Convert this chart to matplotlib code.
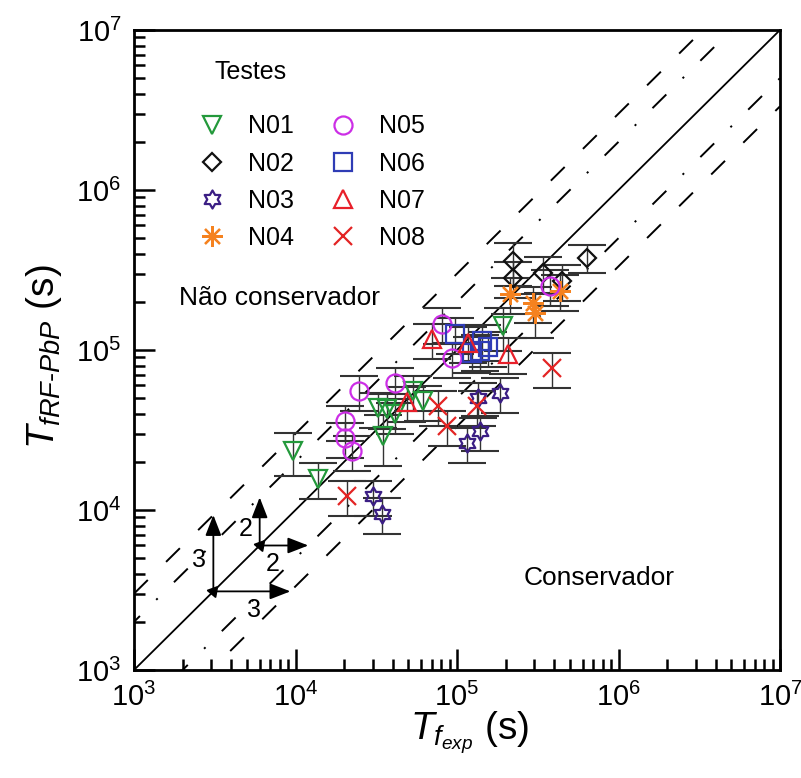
import numpy as np
import matplotlib
matplotlib.use("Agg")
import matplotlib.pyplot as plt
from matplotlib.path import Path

plt.rcParams["font.family"] = ["Liberation Sans", "DejaVu Sans"]
plt.rcParams["mathtext.fontset"] = "custom"
plt.rcParams["mathtext.rm"] = "Liberation Sans"
plt.rcParams["mathtext.it"] = "Liberation Sans:italic"
plt.rcParams["mathtext.bf"] = "Liberation Sans:bold"
plt.rcParams["lines.scale_dashes"] = False

# Fatigue life: experiment (x) vs RF-PbP prediction (y), seconds
n01_exp = [9.7e3, 1.38e4, 3.24e4, 3.69e4, 4.13e4, 3.48e4, 5.35e4, 6.15e4, 1.93e5]
n01_pred = [2.33e4, 1.57e4, 4.33e4, 4.27e4, 3.97e4, 2.89e4, 5.53e4, 4.79e4, 1.41e5]
n01_err = [0.30, 0.25, 0.25, 0.25, 0.25, 0.35, 0.25, 0.25, 0.30]

n02_exp = [2.22e5, 2.22e5, 3.41e5, 4.47e5, 6.38e5]
n02_pred = [3.61e5, 2.83e5, 3.04e5, 2.71e5, 3.78e5]
n02_err = [0.30, 0.25, 0.25, 0.25, 0.20]

n03_exp = [3.02e4, 3.44e4, 1.15e5, 1.39e5, 1.35e5, 1.85e5]
n03_pred = [1.22e4, 9.5e3, 2.61e4, 3.10e4, 5.0e4, 5.37e4]
n03_err = [0.25, 0.25, 0.25, 0.25, 0.25, 0.25]

n04_exp = [2.13e5, 2.96e5, 3.04e5, 4.35e5]
n04_pred = [2.24e5, 1.97e5, 1.71e5, 2.34e5]
n04_err = [0.25, 0.25, 0.30, 0.25]

n05_exp = [2.03e4, 2.03e4, 2.24e4, 2.47e4, 4.13e4, 8.07e4, 9.3e4, 3.77e5]
n05_pred = [3.59e4, 2.81e4, 2.33e4, 5.53e4, 6.21e4, 1.46e5, 8.9e4, 2.52e5]
n05_err = [0.25, 0.25, 0.25, 0.25, 0.25, 0.25, 0.25, 0.25]

n06_exp = [9.73e4, 1.24e5, 1.39e5, 1.56e5, 1.43e5]
n06_pred = [1.26e5, 9.58e4, 9.86e4, 1.04e5, 1.14e5]
n06_err = [0.25, 0.25, 0.25, 0.25, 0.25]

n07_exp = [7.0e4, 1.17e5, 2.07e5, 4.9e4]
n07_pred = [1.17e5, 1.11e5, 9.45e4, 4.72e4]
n07_err = [0.25, 0.25, 0.25, 0.25]

n08_exp = [2.08e4, 7.62e4, 8.67e4, 1.33e5, 3.87e5]
n08_pred = [1.22e4, 4.46e4, 3.34e4, 4.46e4, 7.7e4]
n08_err = [0.25, 0.25, 0.25, 0.25, 0.25]

test_names = ["N01", "N02", "N03", "N04", "N05", "N06", "N07", "N08"]

# scatter band factors and the arrow anchors on the 1:1 line
band_factors = [2, 3]
arrow_anchor = {2: 6.0e3, 3: 3.1e3}

hexagram = Path.unit_regular_star(6, 0.58)

styles = {
    "N01": dict(marker="v", color="#23993b", ms=13),
    "N02": dict(marker="D", color="#111111", ms=9.5),
    "N03": dict(marker=hexagram, color="#3b1e84", ms=13),
    "N04": dict(marker=(8, 2, 0), color="#f5821f", ms=15),
    "N05": dict(marker="o", color="#cc2ee6", ms=13),
    "N06": dict(marker="s", color="#2f3cb5", ms=12.5),
    "N07": dict(marker="^", color="#e8202a", ms=13),
    "N08": dict(marker="x", color="#e32424", ms=13),
}

series = {
    "N01": (n01_exp, n01_pred, n01_err),
    "N02": (n02_exp, n02_pred, n02_err),
    "N03": (n03_exp, n03_pred, n03_err),
    "N04": (n04_exp, n04_pred, n04_err),
    "N05": (n05_exp, n05_pred, n05_err),
    "N06": (n06_exp, n06_pred, n06_err),
    "N07": (n07_exp, n07_pred, n07_err),
    "N08": (n08_exp, n08_pred, n08_err),
}

fig = plt.figure(figsize=(8.01, 7.78), dpi=100)
ax = fig.add_axes([134 / 801, 1 - 670 / 778, 646 / 801, 640 / 778])
ax.set_xscale("log")
ax.set_yscale("log")
lo, hi = 1e3, 1e7
ax.set_xlim(lo, hi)
ax.set_ylim(lo, hi)

# 1:1 line with factor-2 (dash-dot) and factor-3 (dashed) bands
xx = np.array([lo, hi])
ax.plot(xx, xx, color="black", lw=1.3, zorder=1)
for f in band_factors:
    ls = (8, (14, 16.5, 1.5, 16.5)) if f == 2 else (0, (14, 18.5))
    ax.plot(xx, xx * f, color="black", lw=1.4, ls=ls, zorder=1)
    ax.plot(xx, xx / f, color="black", lw=1.4, ls=ls, zorder=1)

handles = []
for name in test_names:
    x, y, e = series[name]
    x = np.asarray(x)
    y = np.asarray(y)
    e = np.asarray(e)
    st = styles[name]
    eb = ax.errorbar(x, y, yerr=[y * e, y * e], fmt="none", ecolor="#333333",
                     elinewidth=1.0, capsize=14, capthick=1.5, zorder=2)
    for cap in eb[1]:
        cap.set_color("#949494")
    h, = ax.plot(x, y, ls="none", marker=st["marker"], ms=st["ms"],
                 mfc="none", mec=st["color"], mew=1.6, zorder=3, label=name)
    handles.append(h)

leg = ax.legend(handles=handles, ncol=2, loc="upper left",
                bbox_to_anchor=(0.1014, 0.868), frameon=False, fontsize=18,
                handlelength=1.0, handletextpad=0.94, columnspacing=1.46,
                labelspacing=0.53, borderpad=0, borderaxespad=0, numpoints=1)

ax.text(0.125, 0.934, "Testes", transform=ax.transAxes, fontsize=18,
        ha="left", va="center")
ax.text(0.226, 0.581, "Não conservador", transform=ax.transAxes, fontsize=19,
        ha="center", va="center")
ax.text(0.72, 0.143, "Conservador", transform=ax.transAxes, fontsize=19,
        ha="center", va="center")

# arrows showing the factor-of-2 and factor-of-3 bands
label_pos = {2: (0.1, 0.27), 3: (0.26, 0.53)}
for f in band_factors:
    x0 = arrow_anchor[f]
    kw = dict(arrowstyle="-|>,head_length=0.9,head_width=0.35", color="black",
              lw=1.3, shrinkA=0, shrinkB=0, mutation_scale=14)
    ax.annotate("", xy=(x0, x0 * f), xytext=(x0, x0), arrowprops=kw, zorder=4)
    ax.annotate("", xy=(x0 * f, x0), xytext=(x0, x0), arrowprops=kw, zorder=4)
    ax.plot([x0], [x0], ls="none", marker=(3, 0, 200), ms=9, color="black",
            zorder=5)
    pv, ph = label_pos[f]
    ax.annotate(str(f), xy=(x0, x0 * f ** pv), xytext=(-5, 0),
                textcoords="offset points", ha="right", va="bottom",
                fontsize=18)
    ax.annotate(str(f), xy=(x0 * f ** ph, x0), xytext=(0, -5),
                textcoords="offset points", ha="center", va="top",
                fontsize=18)

ax.tick_params(which="both", direction="in", top=False, right=False,
               labelsize=21, width=1.8)
ax.tick_params(which="major", length=15, pad=9)
ax.tick_params(which="minor", length=8)
for sp in ax.spines.values():
    sp.set_linewidth(2.0)

ax.set_xlabel(r"$T_{f_{exp}}$ (s)", fontsize=28)
ax.set_ylabel(r"$T_{fRF\text{-}PbP}$ (s)", fontsize=28)
ax.xaxis.set_label_coords(0.52, -0.062)
ax.yaxis.set_label_coords(-0.108, 0.49)

fig.savefig("out.png", dpi=100)
